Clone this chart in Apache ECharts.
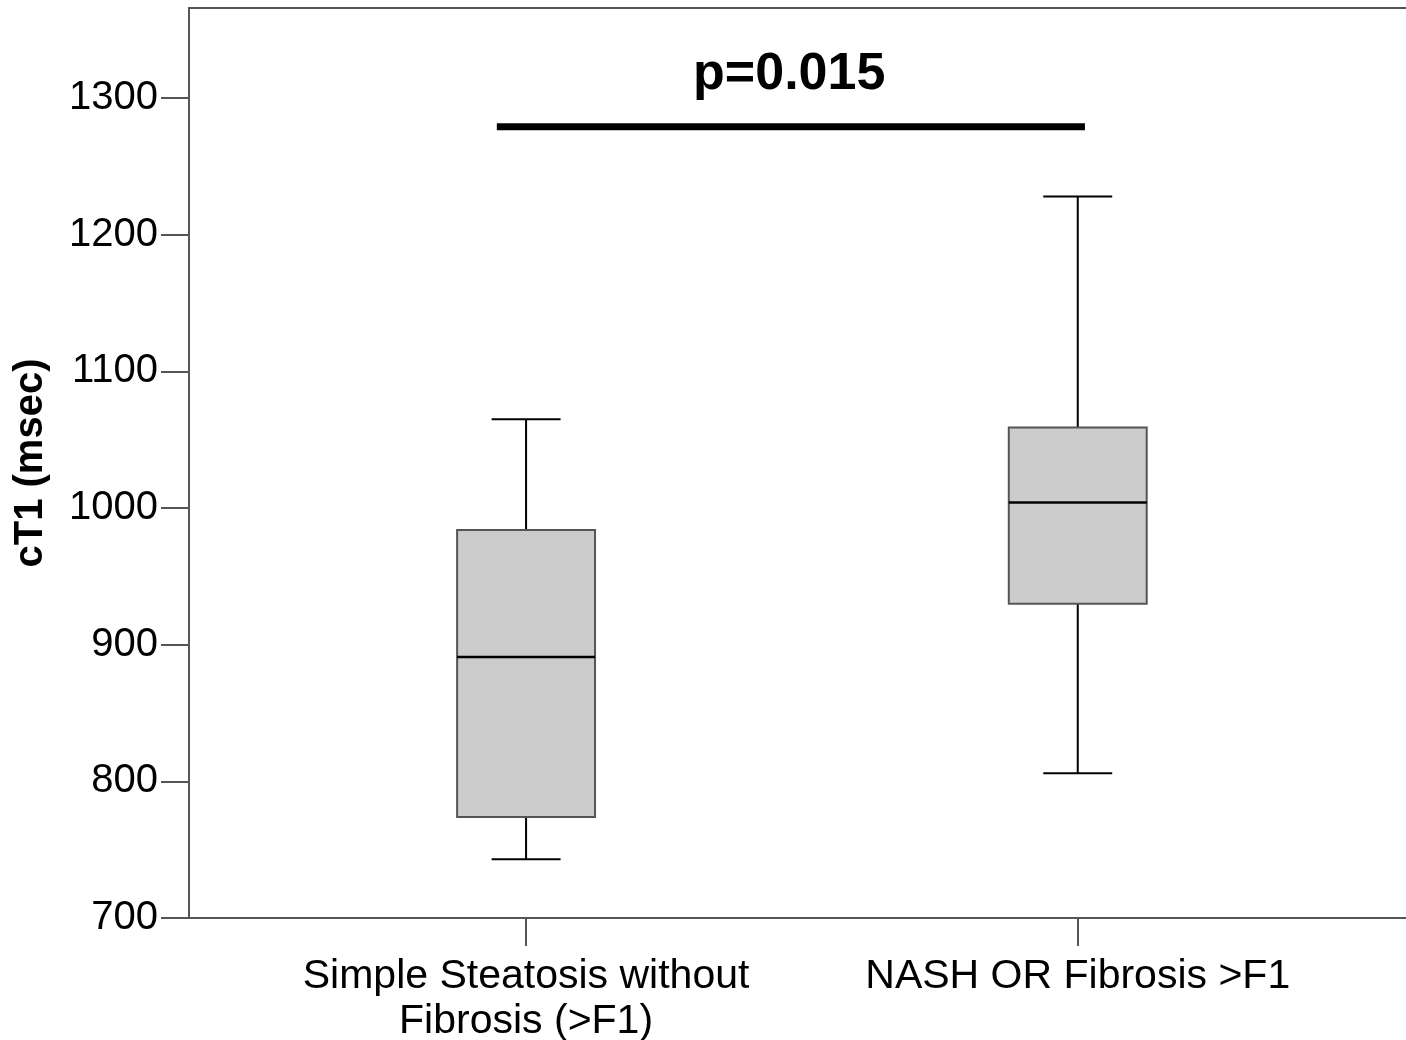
<!DOCTYPE html>
<html>
<head>
<meta charset="utf-8">
<script src="https://cdn.jsdelivr.net/npm/echarts@6/dist/echarts.min.js"></script>
<style>
  html, body { margin: 0; padding: 0; background: #fff; }
  #chart { width: 1406px; height: 1040px; }
</style>
</head>
<body>
<div id="chart"></div>
<script>
// groups on the x axis (positions 0 and 1)
const categories = ['Simple Steatosis without\nFibrosis (>F1)', 'NASH OR Fibrosis >F1']
const catPos = [0, 1]
// box stats: [low whisker, Q1, median, Q3, high whisker]
const boxStats = [
    [743, 774, 891, 984, 1065],
    [806, 930, 1004, 1059, 1228]
]
const yTicks = [700, 800, 900, 1000, 1100, 1200, 1300]
// significance bar: from x, to x, at y
const sigBar = [[-0.053, 1279], [1.013, 1279]]
const sigText = 'p=0.015'
const sigTextPos = [0.477, 1317]

const FONT = "'Liberation Sans', Arial, sans-serif"
const BOX_W = 0.25   // in x-axis units
const CAP_W = 0.125

const echart = echarts.init(document.getElementById('chart'))

const boxData = boxStats.map((s, i) => [catPos[i]].concat(s))

const option = {
    animation: false,
    grid: {
        left: 189,
        right: 0,
        top: 8,
        bottom: 122,
        outerBoundsMode: 'none'
    },
    xAxis: [
        {
            type: 'value',
            min: -0.611,
            max: 1.595,
            splitLine: { show: false },
            axisLine: { onZero: false, lineStyle: { color: '#555', width: 2 } },
            axisTick: {
                customValues: catPos,
                length: 28,
                lineStyle: { color: '#555', width: 2 }
            },
            axisLabel: {
                customValues: catPos,
                formatter: v => categories[Math.round(v)],
                fontFamily: FONT,
                fontSize: 41,
                lineHeight: 45,
                color: '#000',
                margin: 36
            }
        },
        {
            // top border of the frame
            type: 'value',
            position: 'top',
            min: -0.611,
            max: 1.595,
            splitLine: { show: false },
            axisLine: { onZero: false, lineStyle: { color: '#555', width: 2 } },
            axisTick: { show: false },
            axisLabel: { show: false }
        }
    ],
    yAxis: {
        type: 'value',
        min: 700,
        max: 1366,
        name: 'cT1 (msec)',
        nameLocation: 'middle',
        nameRotate: 90,
        nameGap: 138,
        nameTextStyle: {
            fontFamily: FONT,
            fontSize: 40,
            fontWeight: 'bold',
            color: '#000'
        },
        splitLine: { show: false },
        axisLine: { show: true, onZero: false, lineStyle: { color: '#555', width: 2 } },
        axisTick: {
            show: true,
            customValues: yTicks,
            length: 28,
            lineStyle: { color: '#555', width: 2 }
        },
        axisLabel: {
            customValues: yTicks,
            formatter: v => String(v),
            fontFamily: FONT,
            fontSize: 40,
            color: '#000',
            margin: 31
        }
    },
    series: [
        {
            type: 'custom',
            data: boxData,
            renderItem: (params, api) => {
                const x = api.value(0)
                const low = api.coord([x, api.value(1)])
                const q1 = api.coord([x, api.value(2)])
                const med = api.coord([x, api.value(3)])
                const q3 = api.coord([x, api.value(4)])
                const high = api.coord([x, api.value(5)])
                const bw = api.size([BOX_W, 0])[0]
                const cw = api.size([CAP_W, 0])[0]
                const cx = low[0]
                const whisker = { stroke: '#000', lineWidth: 2 }
                return {
                    type: 'group',
                    children: [
                        { type: 'line', shape: { x1: cx, y1: high[1], x2: cx, y2: q3[1] }, style: whisker },
                        { type: 'line', shape: { x1: cx, y1: q1[1], x2: cx, y2: low[1] }, style: whisker },
                        { type: 'line', shape: { x1: cx - cw / 2, y1: high[1], x2: cx + cw / 2, y2: high[1] }, style: whisker },
                        { type: 'line', shape: { x1: cx - cw / 2, y1: low[1], x2: cx + cw / 2, y2: low[1] }, style: whisker },
                        {
                            type: 'rect',
                            shape: { x: cx - bw / 2, y: q3[1], width: bw, height: q1[1] - q3[1] },
                            style: { fill: '#cccccc', stroke: '#555', lineWidth: 2 }
                        },
                        { type: 'line', shape: { x1: cx - bw / 2, y1: med[1], x2: cx + bw / 2, y2: med[1] }, style: { stroke: '#000', lineWidth: 2.5 } }
                    ]
                }
            }
        },
        {
            type: 'line',
            data: sigBar,
            symbol: 'none',
            lineStyle: { color: '#000', width: 7 }
        },
        {
            type: 'scatter',
            data: [sigTextPos],
            symbolSize: 0,
            itemStyle: { opacity: 1 },
            label: {
                show: true,
                position: 'inside',
                formatter: sigText,
                fontFamily: FONT,
                fontSize: 52,
                fontWeight: 'bold',
                color: '#000',
                textBorderWidth: 0
            }
        }
    ]
}
echart.setOption(option)
window.addEventListener('resize', () => {
    echart.resize()
})
</script>
</body>
</html>
